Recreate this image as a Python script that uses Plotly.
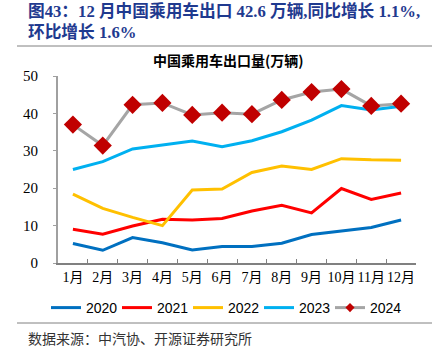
import plotly.graph_objects as go

months = ["1月", "2月", "3月", "4月", "5月", "6月", "7月", "8月", "9月", "10月", "11月", "12月"]
s2020 = [5.2, 3.4, 6.8, 5.4, 3.5, 4.4, 4.4, 5.3, 7.6, 8.5, 9.5, 11.5]
s2021 = [9.0, 7.7, 9.9, 11.7, 11.5, 11.9, 13.9, 15.4, 13.4, 19.9, 17.0, 18.7]
s2022 = [18.4, 14.6, 12.2, 10.0, 19.5, 19.8, 24.2, 25.9, 25.0, 27.9, 27.6, 27.5]
s2023 = [25.0, 27.1, 30.5, 31.6, 32.6, 31.1, 32.7, 35.1, 38.2, 42.1, 40.9, 41.9]
s2024 = [37.0, 31.4, 42.3, 42.8, 39.6, 40.2, 39.8, 43.6, 45.7, 46.5, 42.0, 42.6]

series = [
    ("2020", s2020, "#0070C0"),
    ("2021", s2021, "#FF0000"),
    ("2022", s2022, "#FFC000"),
    ("2023", s2023, "#00B0F0"),
]

L, R, T, B = 58, 28, 76, 92
W, H = 444, 355
pw, ph = W - L - R, H - T - B

def px(x):
    return (x - L) / pw

def py(y):
    return (H - B - y) / ph

legend_ids = ["legend", "legend2", "legend3", "legend4", "legend5"]
legend_x = [46, 117, 188, 259, 330]

fig = go.Figure()
for i, (name, vals, col) in enumerate(series):
    fig.add_trace(go.Scatter(x=months, y=vals, name=name, mode="lines",
                             line=dict(color=col, width=3), legend=legend_ids[i]))
fig.add_trace(go.Scatter(x=months, y=s2024, name="2024", mode="lines+markers",
                         line=dict(color="#A5A5A5", width=3), showlegend=False,
                         marker=dict(symbol="diamond", size=14, color="#C00000")))
fig.add_trace(go.Scatter(x=[None], y=[None], name="2024", mode="lines+markers",
                         line=dict(color="#A5A5A5", width=3), legend=legend_ids[4],
                         marker=dict(symbol="diamond", size=7, color="#C00000")))

serif_cjk = "Liberation Serif, Noto Sans CJK SC"
legend_common = dict(orientation="h", xref="container", yref="container",
                     xanchor="left", y=1 - 308 / H, yanchor="middle",
                     font=dict(family="Liberation Sans, Arial", size=14, color="#000"),
                     itemwidth=30, bgcolor="rgba(0,0,0,0)")
legend_layout = {lid: dict(legend_common, x=lx / W) for lid, lx in zip(legend_ids, legend_x)}

fig.update_layout(
    width=W, height=H,
    margin=dict(l=L, r=R, t=T, b=B, autoexpand=False),
    paper_bgcolor="white", plot_bgcolor="white",
    showlegend=True,
    xaxis=dict(type="category", range=[-0.5, 11.5], showgrid=False, showline=True,
               linecolor="#808080", linewidth=1.5, ticks="inside", ticklen=4,
               tickcolor="#808080", tickson="boundaries", tickangle=0,
               tickfont=dict(family=serif_cjk, size=14, color="#000")),
    yaxis=dict(range=[0, 50], dtick=10, showgrid=False, showline=True,
               linecolor="#A0A0A0", linewidth=2, ticks="outside", ticklen=3,
               tickcolor="#A0A0A0", zeroline=False, ticklabelstandoff=12,
               tickfont=dict(family=serif_cjk, size=15, color="#000")),
    **legend_layout,
)

title_col = "#1F3A8F"
tfont = dict(family="Liberation Serif, Noto Sans CJK SC", size=16.7, color=title_col, weight="bold")
fig.add_annotation(xref="paper", yref="paper", x=px(26), y=py(11), xanchor="left", yanchor="middle",
                   text="图43：12 月中国乘用车出口 42.6 万辆,同比增长 1.1%,", showarrow=False, font=tfont)
fig.add_annotation(xref="paper", yref="paper", x=px(26), y=py(33), xanchor="left", yanchor="middle",
                   text="环比增长 1.6%", showarrow=False, font=tfont)
fig.add_annotation(xref="paper", yref="paper", x=px(228), y=py(60), xanchor="center", yanchor="middle",
                   text="中国乘用车出口量(万辆)", showarrow=False,
                   font=dict(family="Noto Sans CJK SC", size=14, color="#000", weight="bold"))
fig.add_annotation(xref="paper", yref="paper", x=px(26), y=py(338), xanchor="left", yanchor="middle",
                   text="数据来源：中汽协、开源证券研究所", showarrow=False,
                   font=dict(family="Noto Sans CJK SC", size=14, color="#333"))

for yy in (46, 323):
    fig.add_shape(type="line", xref="paper", yref="paper", x0=px(17), x1=px(432), y0=py(yy), y1=py(yy),
                  line=dict(color="#808080", width=1))

fig.write_html("out.html", config={"displayModeBar": False},
               post_script="document.body.style.margin='0';document.body.style.overflow='hidden';")
